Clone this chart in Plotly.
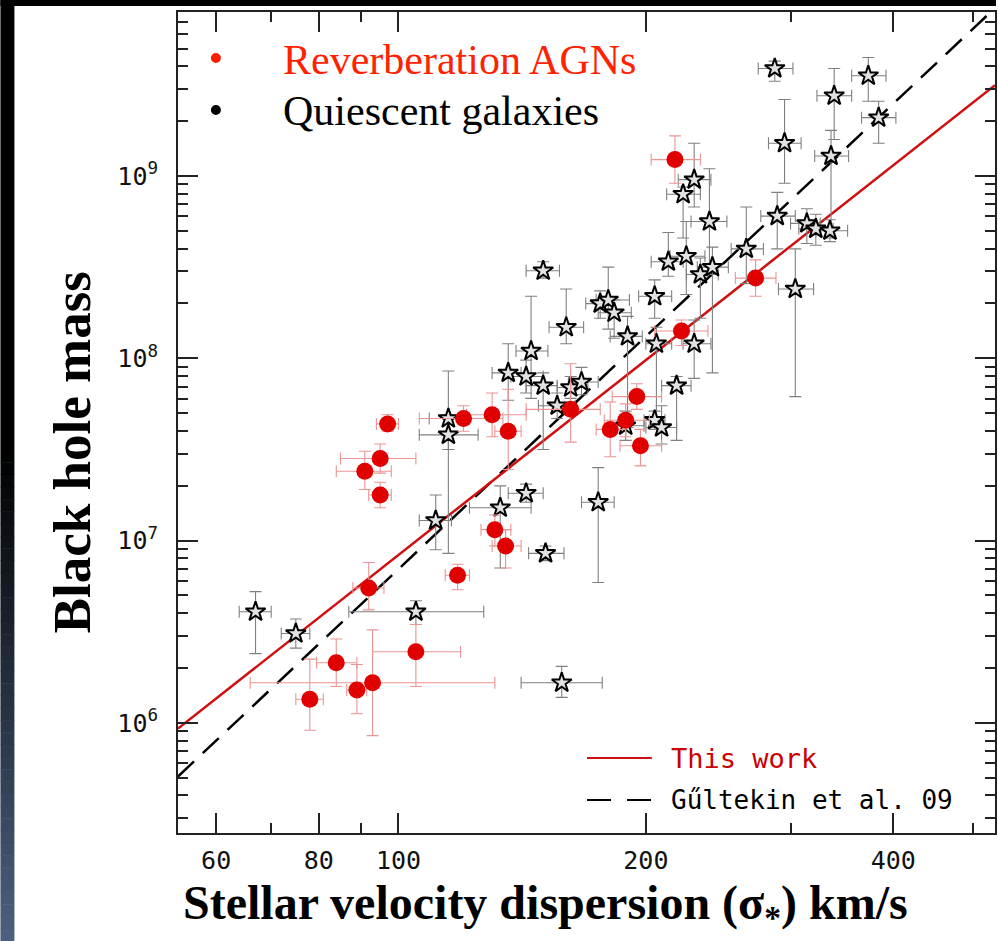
import numpy as np
import plotly.graph_objects as go

# ---------------------------------------------------------------------------
# Reverberation-mapped AGNs: stellar velocity dispersion (km/s) and log10 M_BH
# ---------------------------------------------------------------------------
agn_sigma    = [217, 272, 221, 195, 162, 189, 181, 197, 130, 120, 136, 97,
                95, 91, 95, 131, 135, 118, 92, 105, 84, 93, 89, 78]
agn_sigma_lo = [14, 15, 16, 13, 19, 11, 7, 11, 9, 14, 5, 3,
                10, 7, 3, 5, 5, 4, 4, 12, 4.5, 27, 2.5, 3]
agn_sigma_hi = [16, 16, 17, 14, 14, 13, 8, 12, 13, 14, 5, 3,
                10, 7, 3, 6, 6, 4, 4, 14, 5, 38, 2.5, 3]
agn_logm     = [9.09, 8.44, 8.15, 7.79, 7.72, 7.66, 7.61, 7.52, 7.69, 7.67, 7.60, 7.64,
                7.45, 7.38, 7.25, 7.06, 6.97, 6.81, 6.74, 6.39, 6.33, 6.22, 6.18, 6.13]
agn_logm_lo  = [0.13, 0.10, 0.08, 0.07, 0.18, 0.09, 0.15, 0.11, 0.12, 0.07, 0.21, 0.04,
                0.08, 0.10, 0.07, 0.09, 0.12, 0.08, 0.12, 0.19, 0.13, 0.29, 0.13, 0.17]
agn_logm_hi  = [0.13, 0.10, 0.06, 0.07, 0.25, 0.09, 0.15, 0.09, 0.12, 0.07, 0.23, 0.05,
                0.08, 0.11, 0.07, 0.08, 0.09, 0.06, 0.14, 0.15, 0.13, 0.29, 0.14, 0.22]

# ---------------------------------------------------------------------------
# Quiescent galaxies (dynamical masses)
# ---------------------------------------------------------------------------
q_sigma    = [287, 373, 339, 384, 295, 336, 229, 222, 239, 289, 314, 322, 335,
              213, 224, 233, 241, 265, 304, 205, 206, 229, 150, 160, 176, 180,
              183, 190, 218, 145, 136, 143, 150, 162, 167, 156, 115, 115, 205,
              209, 189, 111, 133, 143, 151, 175, 67, 75, 105, 158]
q_sigma_lo = [13, 17, 16, 18, 13, 15, 10, 10, 12, 13, 14, 15, 13,
              10, 10, 9, 10, 11, 14, 9, 6, 7, 7, 7.5, 7, 6,
              8, 9, 9, 6, 6, 6, 7, 6, 6, 8, 6, 9, 6,
              9, 8, 5, 11, 7, 7, 8, 3, 3, 18, 17]
q_sigma_hi = [15, 19, 17, 19, 14, 17, 11, 11, 12, 15, 12, 16, 17,
              9, 12, 12, 11, 13, 16, 10, 9, 11, 7, 8, 6, 11,
              9, 8, 9, 7, 5, 7, 6, 8, 8, 8, 7, 10, 6,
              9, 10, 5, 12, 7, 8, 8, 3, 3, 22, 19]
q_logm     = [9.59, 9.55, 9.44, 9.32, 9.18, 9.11, 8.98, 8.90, 8.75, 8.78, 8.74, 8.71, 8.70,
              8.53, 8.56, 8.46, 8.50, 8.60, 8.38, 8.34, 8.08, 8.08, 8.48, 8.17, 8.30, 8.32,
              8.25, 8.12, 7.85, 8.04, 7.92, 7.90, 7.85, 7.84, 7.87, 7.74, 7.67, 7.58, 7.66,
              7.62, 7.63, 7.11, 7.18, 7.26, 6.93, 7.21, 6.61, 6.49, 6.61, 6.22]
q_logm_hi  = [0.04, 0.10, 0.15, 0.09, 0.24, 0.14, 0.20, 0.04, 0.29, 0.13, 0.08, 0.08, 0.06,
              0.16, 0.19, 0.09, 0.11, 0.23, 0.22, 0.09, 0.09, 0.13, 0.05, 0.21, 0.07, 0.18,
              0.07, 0.11, 0.05, 0.30, 0.16, 0.09, 0.07, 0.06, 0.08, 0.07, 0.26, 0.11, 0.05,
              0.12, 0.08, 0.14, 0.12, 0.05, 0.04, 0.19, 0.11, 0.08, 0.06, 0.09]
q_logm_lo  = [0.07, 0.14, 0.24, 0.14, 0.22, 0.45, 0.15, 0.24, 0.24, 0.18, 0.11, 0.09, 0.06,
              0.08, 0.21, 0.24, 0.58, 0.19, 0.59, 0.12, 0.44, 0.19, 0.04, 0.09, 0.08, 0.16,
              0.14, 0.50, 0.30, 0.26, 0.15, 0.09, 0.35, 0.06, 0.07, 0.07, 0.17, 0.65, 0.05,
              0.09, 0.08, 0.16, 0.33, 0.05, 0.04, 0.44, 0.23, 0.08, 0.07, 0.08]

# M-sigma relations: log M = alpha + beta * log(sigma / 200 km/s)
fit_this_work = {"alpha": 7.99, "beta": 3.55}
fit_gultekin09 = {"alpha": 8.12, "beta": 4.24}

# axis tick values
x_tickvals = [60, 80, 100, 200, 400]
x_minor = [70, 90, 300, 500]
y_tickvals = [1e6, 1e7, 1e8, 1e9]
y_ticktext = ["10<sup>6</sup>", "10<sup>7</sup>", "10<sup>8</sup>", "10<sup>9</sup>"]
y_minor = [k * 10.0 ** n for n in range(5, 10) for k in range(2, 10)]

# ---------------------------------------------------------------------------
W, H = 998, 941
ML, MR, MT, MB = 178, 1, 12, 108
PW, PH = W - ML - MR, H - MT - MB
XR = [1.7317, 2.7259]
YR = [5.396, 9.8996]


def px(x):
    return (x - ML) / PW


def py(y):
    return (H - MB - y) / PH


def mass_errors(logm, lo, hi):
    logm, lo, hi = map(np.asarray, (logm, lo, hi))
    m = 10 ** logm
    return m, 10 ** (logm + hi) - m, m - 10 ** (logm - lo)


fig = go.Figure()

# fitted relations across the whole sigma range
sig_line = np.array([10 ** XR[0], 10 ** XR[1]])
for fit, color, dash in [(fit_gultekin09, "#000000", "22px,12px"),
                         (fit_this_work, "#d01010", "solid")]:
    logm_line = fit["alpha"] + fit["beta"] * np.log10(sig_line / 200.0)
    fig.add_trace(go.Scatter(x=sig_line, y=10 ** logm_line, mode="lines",
                             line=dict(color=color, width=2.5, dash=dash),
                             showlegend=False, hoverinfo="skip"))

# quiescent galaxies
qm, qm_hi, qm_lo = mass_errors(q_logm, q_logm_lo, q_logm_hi)
fig.add_trace(go.Scatter(
    x=q_sigma, y=qm, mode="markers", showlegend=False,
    marker=dict(symbol="star", size=15, color="#e2e2e2",
                line=dict(color="#000000", width=2)),
    error_x=dict(type="data", symmetric=False, array=q_sigma_hi, arrayminus=q_sigma_lo,
                 color="#808080", thickness=1.1, width=6),
    error_y=dict(type="data", symmetric=False, array=qm_hi, arrayminus=qm_lo,
                 color="#808080", thickness=1.1, width=6),
))

# reverberation-mapped AGNs
am, am_hi, am_lo = mass_errors(agn_logm, agn_logm_lo, agn_logm_hi)
fig.add_trace(go.Scatter(
    x=agn_sigma, y=am, mode="markers", showlegend=False,
    marker=dict(symbol="circle", size=17, color="#e00000", line=dict(width=0)),
    error_x=dict(type="data", symmetric=False, array=agn_sigma_hi, arrayminus=agn_sigma_lo,
                 color="#eb9494", thickness=1.1, width=6),
    error_y=dict(type="data", symmetric=False, array=am_hi, arrayminus=am_lo,
                 color="#eb9494", thickness=1.1, width=6),
))

axis_common = dict(
    type="log", showgrid=False, zeroline=False, showline=True,
    linecolor="#222222", linewidth=2, mirror="ticks",
    ticks="inside", ticklen=20, tickwidth=1.5, tickcolor="#222222",
    tickfont=dict(family="DejaVu Sans Mono", size=25, color="#111111"),
)

fig.update_xaxes(**axis_common, range=XR, tickvals=x_tickvals,
                 ticktext=[str(v) for v in x_tickvals], ticklabelstandoff=4,
                 minor=dict(tickvals=x_minor, ticks="inside", ticklen=10,
                            tickwidth=1.5, tickcolor="#222222", showgrid=False))
fig.update_yaxes(**axis_common, range=YR, tickvals=y_tickvals, ticktext=y_ticktext,
                 ticklabelstandoff=13,
                 minor=dict(tickvals=y_minor, ticks="inside", ticklen=10,
                            tickwidth=1.5, tickcolor="#222222", showgrid=False))

shapes = []
# dark slide border: black strip on top, black-to-slate strip on the left
shapes.append(dict(type="rect", xref="paper", yref="paper", x0=px(0), x1=px(W),
                   y0=py(6), y1=py(0), fillcolor="#000000", line=dict(width=0)))
shapes.append(dict(type="rect", xref="paper", yref="paper", x0=px(0), x1=px(14),
                   y0=py(450), y1=py(0), fillcolor="#000000", line=dict(width=0)))
n_band = 40
for i in range(n_band):
    y0 = 450 + (H - 450) * i / n_band
    y1 = 450 + (H - 450) * (i + 1) / n_band + 0.5
    t = (i + 0.5) / n_band
    c = (int(76 * t), int(97 * t), int(128 * t))
    shapes.append(dict(type="rect", xref="paper", yref="paper", x0=px(0), x1=px(14),
                       y0=py(y1), y1=py(y0), fillcolor="rgb(%d,%d,%d)" % c,
                       line=dict(width=0)))

# legend symbols
for yc, col in [(58, "#ff1a00"), (110, "#000000")]:
    shapes.append(dict(type="circle", xref="paper", yref="paper",
                       x0=px(211), x1=px(221), y0=py(yc + 5), y1=py(yc - 5),
                       fillcolor=col, line=dict(width=0)))
shapes.append(dict(type="line", xref="paper", yref="paper", x0=px(588), x1=px(653),
                   y0=py(758), y1=py(758), line=dict(color="#d01010", width=2)))
shapes.append(dict(type="line", xref="paper", yref="paper", x0=px(588), x1=px(653),
                   y0=py(800), y1=py(800), line=dict(color="#000000", width=2,
                                                       dash="24px,16px")))
fig.update_layout(shapes=shapes)

annotations = [
    dict(text="Reverberation AGNs", x=px(281), y=py(60), xanchor="left", yanchor="middle",
         font=dict(family="Liberation Serif", size=42, color="#ff2200")),
    dict(text="Quiescent galaxies", x=px(281), y=py(111), xanchor="left", yanchor="middle",
         font=dict(family="Liberation Serif", size=42, color="#000000")),
    dict(text="This work", x=px(670), y=py(758), xanchor="left", yanchor="middle",
         font=dict(family="DejaVu Sans Mono", size=27, color="#cc0000")),
    dict(text="G\u0171ltekin et al. 09", x=px(670), y=py(800), xanchor="left",
         yanchor="middle", font=dict(family="DejaVu Sans Mono", size=26, color="#000000")),
    dict(text="<b>Black hole mass</b>", x=px(72), y=py(452), textangle=-90,
         xanchor="center", yanchor="middle",
         font=dict(family="Liberation Serif", size=53, color="#000000")),
    dict(text="<b>Stellar velocity dispersion (\u03c3<sub>*</sub>) km/s</b>",
         x=px(546), y=py(906), xanchor="center", yanchor="middle",
         font=dict(family="Liberation Serif", size=48, color="#000000")),
]
for a in annotations:
    a.update(xref="paper", yref="paper", showarrow=False)
fig.update_layout(annotations=annotations)

fig.update_layout(width=W, height=H, margin=dict(l=ML, r=MR, t=MT, b=MB),
                  paper_bgcolor="#ffffff", plot_bgcolor="#ffffff")

fig.write_html("out.html")
